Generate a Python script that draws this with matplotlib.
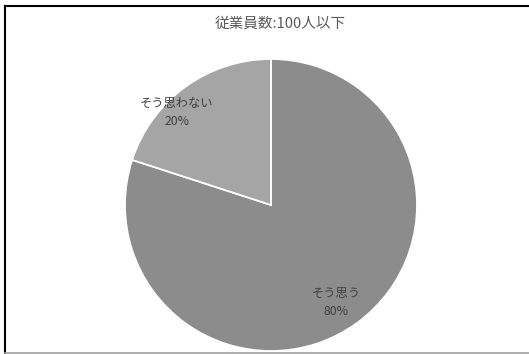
import matplotlib.pyplot as plt
from matplotlib.lines import Line2D

plt.rcParams['font.family'] = ['Noto Sans CJK JP', 'DejaVu Sans']

#   Data
TITLE_LABEL = "従業員数:100人以下"
categories = ["そう思う", "そう思わない"]
shares = [80, 20]
colours = ["#8c8c8c", "#a5a5a5"]

# label centres in axes data units (pie radius = 1)
label_pos = [(0.445, -0.665), (-0.645, 0.635)]

W, H = 529, 354
fig = plt.figure(figsize=(W / 100, H / 100), dpi=100)

# pie axes: centre (271, 205) px, radius 146 px
cx, cy, r = 271, 205, 146
ax = fig.add_axes([(cx - r) / W, (H - cy - r) / H, 2 * r / W, 2 * r / H])
ax.pie(shares, colors=colours, startangle=90, counterclock=False,
       wedgeprops=dict(edgecolor="white", linewidth=1.3))
ax.set_xlim(-1, 1)
ax.set_ylim(-1, 1)
ax.set_aspect("equal")
ax.axis("off")

for name, val, (x, y) in zip(categories, shares, label_pos):
    ax.text(x, y, f"{name}\n{val}%", ha="center", va="center",
            fontsize=8.8, color="#404040", linespacing=1.5)

fig.text(280 / W, 1 - 24 / H, TITLE_LABEL, ha="center", va="center",
         fontsize=10.5, color="#595959")

# chart frame
fig.add_artist(Line2D([5 / W, 1], [1 - 6 / H, 1 - 6 / H], color="black", lw=1.5))
fig.add_artist(Line2D([5 / W, 5 / W], [1 - 6 / H, 0], color="black", lw=1.5))
fig.add_artist(Line2D([5 / W, 1], [1 - 352.5 / H, 1 - 352.5 / H], color="#a0a0a0", lw=1.2))

fig.savefig("out.png", dpi=100)
plt.close()
